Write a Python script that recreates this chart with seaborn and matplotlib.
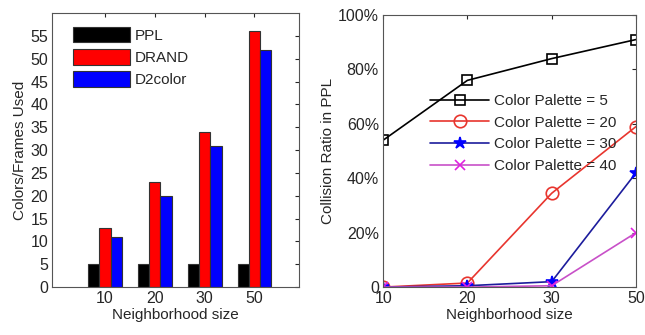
import numpy as np
import pandas as pd
import matplotlib
matplotlib.use("Agg")
import matplotlib.pyplot as plt
import seaborn as sns

# data
sizes = ["10", "20", "30", "50"]
ppl = [5, 5, 5, 5]
drand = [13, 23, 34, 56]
d2color = [11, 20, 31, 52]

palette_labels = ["Color Palette = 5", "Color Palette = 20",
                  "Color Palette = 30", "Color Palette = 40"]
ratio_5 = [54, 76, 84, 91]
ratio_20 = [0, 1.5, 34.5, 59]
ratio_30 = [0, 0.5, 2, 42]
ratio_40 = [0, 0, 0.5, 20]

sns.set_style("white")
plt.rcParams['font.family'] = ['Liberation Sans', 'DejaVu Sans']
plt.rcParams['xtick.direction'] = 'in'
plt.rcParams['ytick.direction'] = 'in'

fig = plt.figure(figsize=(6.45, 3.35), dpi=100)
ax1 = fig.add_axes([0.081, 0.143, 0.383, 0.818])
ax2 = fig.add_axes([0.594, 0.143, 0.392, 0.812])

# left: bar chart
bars = pd.DataFrame({
    'size': sizes * 3,
    'value': ppl + drand + d2color,
    'method': ['PPL'] * 4 + ['DRAND'] * 4 + ['D2color'] * 4,
})
sns.barplot(bars, x='size', y='value', hue='method', ax=ax1,
            palette=['#000000', '#ff0000', '#0000ff'], width=0.68,
            edgecolor='#333333', linewidth=0.8, saturation=1)
ax1.set_xlim(-1.06, 3.9)
ax1.set_ylim(0, 60)
ax1.set_yticks(np.arange(0, 56, 5))
ax1.set_xlabel('Neighborhood size', fontsize=11, labelpad=1)
ax1.set_ylabel('Colors/Frames Used', fontsize=11, labelpad=2)
ax1.tick_params(labelsize=11.5, length=3, top=True, right=True, pad=3)
ax1.legend(loc='upper left', bbox_to_anchor=(0.03, 1.0), frameon=False,
           fontsize=11, handlelength=3.7, handleheight=1.2,
           labelspacing=0.4, handletextpad=0.3)

# right: collision ratio lines
pos = [0, 1, 2, 3]
series = [
    (ratio_5, 'black', 'black', 's', 'none', 7),
    (ratio_20, '#e8352e', '#e8352e', 'o', 'none', 9),
    (ratio_30, '#1c1c9c', '#0000ff', '*', '#0000ff', 9),
    (ratio_40, '#c850c8', '#e020e0', 'x', '#e020e0', 7),
]
for (vals, lc, mc, mk, mfc, ms), lab in zip(series, palette_labels):
    sns.lineplot(x=pos, y=vals, ax=ax2, color=lc, marker=mk, markersize=ms,
                 markeredgecolor=mc, markerfacecolor=mfc, markeredgewidth=1.2,
                 linewidth=1.2, label=lab)
ax2.set_xlim(0, 3)
ax2.set_xticks(pos)
ax2.set_xticklabels(sizes)
ax2.set_ylim(0, 100)
ax2.set_yticks([0, 20, 40, 60, 80, 100])
ax2.set_yticklabels(['0', '20%', '40%', '60%', '80%', '100%'])
ax2.set_xlabel('Neighborhood size', fontsize=11, labelpad=1)
ax2.set_ylabel('Collision Ratio in PPL', fontsize=11, labelpad=2)
ax2.tick_params(labelsize=11.5, length=3, top=True, right=True, pad=3)
ax2.legend(loc='upper left', bbox_to_anchor=(0.13, 0.76), frameon=False,
           fontsize=11, handlelength=3.9, labelspacing=0.5,
           handletextpad=0.3)

for ax in (ax1, ax2):
    for s in ax.spines.values():
        s.set_color('#555555')
        s.set_linewidth(0.8)

fig.savefig('out.png', dpi=100)
